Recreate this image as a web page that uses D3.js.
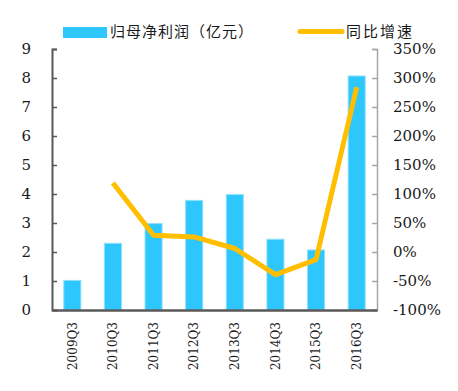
<!DOCTYPE html>
<html>
<head>
<meta charset="utf-8">
<script src="https://cdn.jsdelivr.net/npm/d3@7"></script>
<style>
  body { margin: 0; background: #fff; }
  svg { display: block; }
  .num { font-family: "DejaVu Serif", serif; }
</style>
</head>
<body>
<div id="chart"></div>
<script>
// data
const quarters = ["2009Q3", "2010Q3", "2011Q3", "2012Q3", "2013Q3", "2014Q3", "2015Q3", "2016Q3"];
const profit = [1.02, 2.3, 2.98, 3.78, 3.98, 2.44, 2.07, 8.07];
const growth = [null, 119, 29, 26, 6, -39, -13, 284];
const leftTicks = [0, 1, 2, 3, 4, 5, 6, 7, 8, 9];
const rightTicks = [-100, -50, 0, 50, 100, 150, 200, 250, 300, 350];
const seriesNames = ["归母净利润（亿元）", "同比增速"];

const width = 458, height = 391;
const margin = { top: 49, right: 81, bottom: 81, left: 52 };

const svg = d3.select("#chart")
  .append("svg")
  .attr("width", width)
  .attr("height", height);

const x = d3.scaleBand()
  .domain(quarters)
  .range([margin.left, width - margin.right])
  .paddingInner(0.58)
  .paddingOuter(0.29);

const yLeft = d3.scaleLinear()
  .domain([0, 9])
  .range([height - margin.bottom, margin.top]);

const yRight = d3.scaleLinear()
  .domain([-100, 350])
  .range([height - margin.bottom, margin.top]);

// bars
svg.append("g")
  .selectAll("rect")
  .data(profit)
  .join("rect")
  .attr("x", (d, i) => x(quarters[i]))
  .attr("y", d => yLeft(d))
  .attr("width", x.bandwidth())
  .attr("height", d => yLeft(0) - yLeft(d))
  .attr("fill", "#2ec7fd")
  .attr("stroke", "#8fe0fd")
  .attr("stroke-width", 1);

// left axis
const axL = svg.append("g")
  .attr("transform", `translate(${margin.left},0)`)
  .call(d3.axisLeft(yLeft).tickValues(leftTicks).tickSize(-5).tickPadding(21).tickFormat(d3.format("d")));
axL.attr("font-family", null).attr("font-size", null);
axL.select(".domain").attr("stroke", "#595959").attr("stroke-width", 2);
axL.selectAll(".tick line").attr("stroke", "#595959").attr("stroke-width", 1.5);
axL.selectAll("text")
  .attr("class", "num")
  .style("font-size", "15px")
  .attr("fill", "#1a1a1a");

// right axis
const axR = svg.append("g")
  .attr("transform", `translate(${width - margin.right},0)`)
  .call(d3.axisRight(yRight).tickValues(rightTicks).tickSize(-5).tickPadding(16).tickFormat(d => d + "%"));
axR.attr("font-family", null).attr("font-size", null);
axR.select(".domain").attr("stroke", "#a6a6a6").attr("stroke-width", 1.5);
axR.selectAll(".tick line").attr("stroke", "#a6a6a6").attr("stroke-width", 1.5);
axR.selectAll("text")
  .attr("class", "num")
  .style("font-size", "15px")
  .attr("fill", "#1a1a1a");

// bottom axis
const axB = svg.append("g")
  .attr("transform", `translate(0,${height - margin.bottom})`)
  .call(d3.axisBottom(x).tickSize(0).tickPadding(0));
axB.attr("font-family", null).attr("font-size", null);
axB.select(".domain").attr("stroke", "#595959").attr("stroke-width", 2.5);
axB.selectAll("text")
  .attr("class", "num")
  .style("font-size", "12px")
  .attr("fill", "#1a1a1a")
  .attr("text-anchor", "end")
  .attr("dy", "0.35em")
  .attr("transform", "translate(0,12) rotate(-90)");

// growth line
const line = d3.line()
  .defined(d => d != null)
  .x((d, i) => x(quarters[i]) + x.bandwidth() / 2)
  .y(d => yRight(d));

svg.append("path")
  .datum(growth)
  .attr("d", line)
  .attr("fill", "none")
  .attr("stroke", "#ffbf00")
  .attr("stroke-width", 5)
  .attr("stroke-linejoin", "round");

// legend
const legend = svg.append("g")
  .attr("font-family", "Noto Sans CJK SC, sans-serif")
  .attr("font-size", 15)
  .attr("fill", "#1a1a1a");
legend.append("rect")
  .attr("x", 63).attr("y", 27).attr("width", 44).attr("height", 11)
  .attr("fill", "#2ec7fd");
legend.append("text")
  .attr("x", 110).attr("y", 37)
  .attr("letter-spacing", 1)
  .text(seriesNames[0]);
legend.append("line")
  .attr("x1", 300).attr("x2", 342).attr("y1", 31.5).attr("y2", 31.5)
  .attr("stroke", "#ffbf00").attr("stroke-width", 5)
  .attr("stroke-linecap", "round");
legend.append("text")
  .attr("x", 346).attr("y", 37)
  .attr("letter-spacing", 2)
  .text(seriesNames[1]);
</script>
</body>
</html>
